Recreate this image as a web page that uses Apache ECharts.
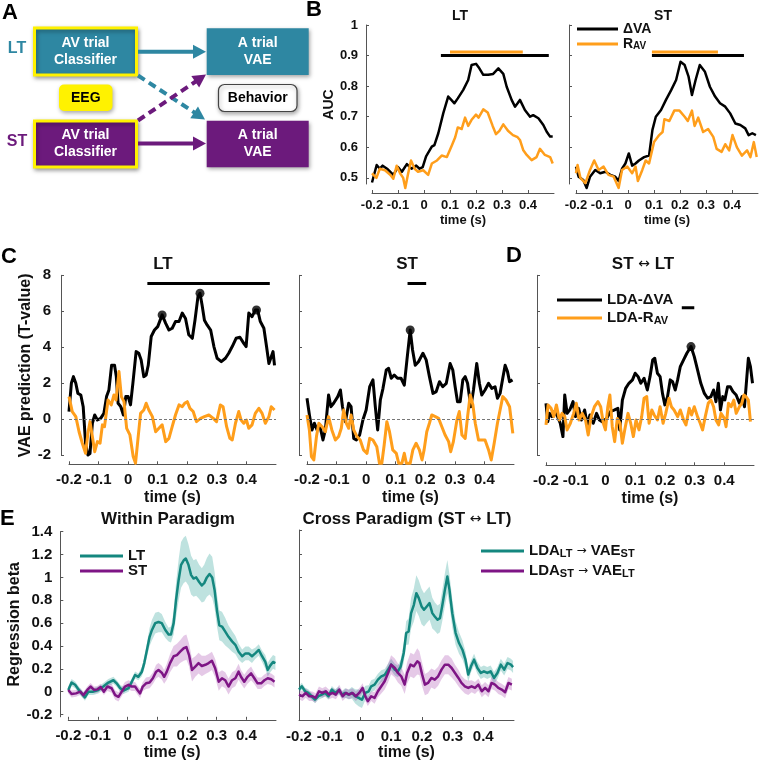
<!DOCTYPE html>
<html><head><meta charset="utf-8">
<script src="https://cdn.jsdelivr.net/npm/echarts@6/dist/echarts.min.js"></script>
<style>html,body{margin:0;padding:0;background:#fff}#c{width:768px;height:762px}</style>
</head><body><div id="c"></div>
<script>
// ---------- tick labels ----------
const xTicks = [-0.2,-0.1,0,0.1,0.2,0.3,0.4];
const yTicksB = [0.5,0.6,0.7,0.8,0.9,1];
const yTicksC = [-2,0,2,4,6,8];
const yTicksE = [-0.2,0,0.2,0.4,0.6,0.8,1,1.2,1.4];

// ---------- panel B (AUC) ----------
const bLT_dVA = [[-0.2,0.485],[-0.182,0.542],[-0.17,0.53],[-0.159,0.54],[-0.142,0.53],[-0.118,0.51],[-0.1,0.535],[-0.085,0.52],[-0.066,0.545],[-0.048,0.53],[-0.03,0.54],[-0.017,0.53],[-0.005,0.535],[0.008,0.57],[0.03,0.602],[0.04,0.607],[0.055,0.646],[0.074,0.711],[0.093,0.766],[0.105,0.755],[0.117,0.744],[0.13,0.76],[0.151,0.788],[0.17,0.82],[0.183,0.869],[0.2,0.873],[0.21,0.862],[0.228,0.837],[0.247,0.837],[0.266,0.84],[0.286,0.858],[0.305,0.84],[0.318,0.798],[0.337,0.755],[0.35,0.733],[0.36,0.744],[0.369,0.755],[0.388,0.722],[0.408,0.70],[0.42,0.705],[0.44,0.695],[0.459,0.673],[0.472,0.651],[0.485,0.635],[0.495,0.635]];
const bLT_Rav = [[-0.2,0.515],[-0.183,0.5],[-0.17,0.53],[-0.15,0.525],[-0.13,0.51],[-0.118,0.497],[-0.105,0.54],[-0.092,0.515],[-0.08,0.5],[-0.072,0.467],[-0.062,0.51],[-0.05,0.557],[-0.036,0.53],[-0.023,0.52],[-0.003,0.525],[0.016,0.51],[0.03,0.547],[0.05,0.557],[0.068,0.573],[0.088,0.568],[0.107,0.606],[0.12,0.633],[0.13,0.665],[0.145,0.66],[0.158,0.697],[0.17,0.67],[0.183,0.69],[0.2,0.707],[0.21,0.697],[0.228,0.724],[0.245,0.714],[0.264,0.67],[0.277,0.643],[0.29,0.654],[0.305,0.675],[0.323,0.654],[0.342,0.64],[0.36,0.633],[0.369,0.624],[0.382,0.59],[0.395,0.575],[0.414,0.558],[0.433,0.568],[0.446,0.595],[0.465,0.575],[0.485,0.568],[0.495,0.547]];
const bST_dVA = [[-0.2,0.537],[-0.19,0.504],[-0.172,0.493],[-0.159,0.467],[-0.146,0.504],[-0.126,0.526],[-0.107,0.515],[-0.087,0.52],[-0.068,0.51],[-0.049,0.504],[-0.036,0.49],[-0.023,0.53],[-0.01,0.547],[0.003,0.58],[0.016,0.54],[0.029,0.547],[0.042,0.557],[0.062,0.568],[0.081,0.573],[0.094,0.657],[0.107,0.7],[0.127,0.722],[0.146,0.755],[0.166,0.787],[0.185,0.82],[0.202,0.88],[0.218,0.869],[0.233,0.831],[0.246,0.771],[0.26,0.82],[0.276,0.869],[0.296,0.847],[0.315,0.798],[0.335,0.766],[0.354,0.744],[0.374,0.733],[0.393,0.711],[0.413,0.678],[0.432,0.673],[0.451,0.662],[0.464,0.64],[0.478,0.646],[0.492,0.64]];
const bST_Rav = [[-0.2,0.515],[-0.194,0.542],[-0.183,0.5],[-0.164,0.483],[-0.146,0.526],[-0.13,0.557],[-0.113,0.526],[-0.094,0.537],[-0.075,0.51],[-0.055,0.504],[-0.036,0.467],[-0.023,0.526],[-0.003,0.537],[0.016,0.515],[0.029,0.537],[0.038,0.49],[0.055,0.526],[0.068,0.557],[0.081,0.547],[0.1,0.617],[0.12,0.64],[0.133,0.65],[0.14,0.692],[0.159,0.686],[0.178,0.72],[0.198,0.72],[0.218,0.7],[0.23,0.686],[0.246,0.72],[0.256,0.67],[0.27,0.697],[0.289,0.65],[0.308,0.66],[0.328,0.634],[0.341,0.595],[0.36,0.585],[0.374,0.61],[0.389,0.59],[0.402,0.64],[0.419,0.6],[0.438,0.573],[0.458,0.59],[0.471,0.568],[0.484,0.617],[0.495,0.568]];
// significance intervals [start, end, level]
const sigB_LT_dVA = [0.065, 0.48, 0.9];
const sigB_LT_Rav = [0.10, 0.38, 0.912];
const sigB_ST_dVA = [0.092, 0.446, 0.9];
const sigB_ST_Rav = [0.092, 0.346, 0.912];

// ---------- panel C / D (T-values) ----------
const cLT_dVA = [[-0.2,0.43],[-0.192,2.0],[-0.185,2.37],[-0.177,2.0],[-0.17,1.44],[-0.16,1.35],[-0.152,0.7],[-0.144,-1.33],[-0.136,-1.98],[-0.129,-1.9],[-0.121,-0.22],[-0.113,0.24],[-0.104,-0.04],[-0.093,0.05],[-0.082,0.33],[-0.073,1.26],[-0.065,1.63],[-0.056,3.0],[-0.046,3.0],[-0.04,2.37],[-0.034,0.89],[-0.025,0.7],[-0.016,0.24],[-0.008,1.26],[0.0,1.26],[0.008,0.8],[0.016,2.0],[0.027,3.76],[0.036,3.67],[0.044,3.3],[0.053,2.37],[0.061,2.46],[0.068,3.0],[0.078,4.6],[0.089,4.96],[0.1,5.15],[0.115,5.8],[0.127,5.33],[0.138,4.96],[0.149,5.06],[0.16,5.43],[0.172,5.43],[0.183,5.9],[0.194,5.6],[0.205,4.7],[0.217,4.5],[0.226,5.5],[0.236,6.8],[0.243,7.0],[0.25,6.35],[0.258,5.5],[0.267,5.24],[0.279,4.96],[0.29,4.04],[0.301,3.39],[0.315,3.2],[0.329,3.39],[0.34,3.67],[0.352,4.04],[0.365,4.5],[0.378,4.56],[0.391,4.22],[0.399,4.04],[0.408,5.9],[0.419,5.7],[0.43,6.07],[0.438,6.07],[0.447,5.43],[0.459,5.06],[0.468,4.04],[0.476,3.1],[0.484,3.48],[0.49,3.76],[0.495,3.0]];
const cLT_Rav = [[-0.2,1.26],[-0.189,0.43],[-0.177,0.15],[-0.166,-0.69],[-0.155,-1.33],[-0.144,-1.89],[-0.136,-0.78],[-0.129,-0.13],[-0.121,-0.96],[-0.113,-1.8],[-0.104,-1.24],[-0.095,-1.33],[-0.087,-0.31],[-0.08,-0.41],[-0.068,1.07],[-0.057,0.8],[-0.048,1.35],[-0.041,1.07],[-0.031,2.65],[-0.023,1.26],[-0.014,0.98],[-0.005,-0.5],[0.006,-0.87],[0.017,-2.07],[0.025,-2.44],[0.034,-0.96],[0.042,0.33],[0.053,0.52],[0.061,0.89],[0.07,0.52],[0.082,0.15],[0.093,-0.69],[0.104,-0.5],[0.115,-0.31],[0.127,-1.24],[0.138,-1.06],[0.149,-0.41],[0.16,0.24],[0.172,0.8],[0.183,0.7],[0.191,0.89],[0.2,0.98],[0.209,0.61],[0.22,0.43],[0.231,-0.13],[0.245,0.05],[0.258,0.15],[0.273,0.24],[0.288,0.05],[0.299,-0.13],[0.312,0.8],[0.321,0.7],[0.333,-0.41],[0.344,-1.06],[0.352,-1.15],[0.363,-0.22],[0.374,0.43],[0.382,-0.04],[0.391,-0.22],[0.4,-0.04],[0.408,-0.5],[0.419,-0.31],[0.43,0.33],[0.442,0.61],[0.453,0.33],[0.464,-0.22],[0.476,0.15],[0.484,0.7],[0.495,0.52]];
const cST_dVA = [[-0.2,1.17],[-0.191,0.15],[-0.183,-0.59],[-0.175,-0.22],[-0.166,-0.59],[-0.157,-0.31],[-0.146,-1.15],[-0.138,-0.59],[-0.127,1.35],[-0.119,0.7],[-0.11,0.89],[-0.096,1.26],[-0.087,1.63],[-0.08,0.7],[-0.07,-0.13],[-0.059,0.89],[-0.051,0.7],[-0.042,-1.06],[-0.033,-1.15],[-0.022,-0.87],[-0.011,-0.04],[0.0,0.52],[0.012,1.81],[0.023,2.19],[0.031,0.7],[0.039,-0.59],[0.048,1.07],[0.057,1.72],[0.068,2.74],[0.076,2.83],[0.085,2.28],[0.095,2.46],[0.106,2.28],[0.118,2.28],[0.129,1.9],[0.138,3.3],[0.149,4.96],[0.157,3.85],[0.166,3.0],[0.177,3.2],[0.192,3.67],[0.203,3.3],[0.214,2.37],[0.226,1.44],[0.237,1.54],[0.248,2.09],[0.259,1.81],[0.271,2.0],[0.284,3.1],[0.293,2.74],[0.301,1.81],[0.309,0.98],[0.318,0.98],[0.327,2.19],[0.335,2.37],[0.343,2.0],[0.354,0.7],[0.363,1.63],[0.374,3.1],[0.383,2.0],[0.391,1.35],[0.402,1.63],[0.414,2.0],[0.425,1.72],[0.436,1.81],[0.444,1.17],[0.453,1.44],[0.462,2.28],[0.47,3.0],[0.478,2.65],[0.485,2.09],[0.495,2.19]];
const cST_Rav = [[-0.2,0.24],[-0.192,-0.59],[-0.185,-2.07],[-0.177,-2.26],[-0.168,-0.96],[-0.16,-0.22],[-0.149,-0.41],[-0.138,-0.69],[-0.127,0.15],[-0.116,-0.59],[-0.104,-1.15],[-0.093,-0.96],[-0.084,-0.5],[-0.076,0.52],[-0.067,-0.22],[-0.059,-0.5],[-0.051,0.24],[-0.042,-0.59],[-0.031,-0.96],[-0.02,-1.15],[-0.009,-1.7],[0.003,-1.89],[0.012,-1.06],[0.023,-1.15],[0.036,-1.52],[0.045,-2.44],[0.053,-2.44],[0.061,-1.43],[0.07,-0.13],[0.079,-0.69],[0.09,-1.7],[0.102,-1.89],[0.11,-2.44],[0.121,-2.44],[0.129,-1.89],[0.136,-2.44],[0.149,-2.44],[0.158,-1.7],[0.169,-1.33],[0.18,-1.7],[0.189,-2.26],[0.196,-1.7],[0.205,-0.69],[0.214,-0.22],[0.222,0.24],[0.234,0.15],[0.245,0.05],[0.256,-0.41],[0.267,-0.87],[0.279,-1.24],[0.286,-1.8],[0.295,-1.24],[0.307,-0.04],[0.315,0.43],[0.324,-0.87],[0.335,-1.06],[0.343,0.15],[0.352,1.35],[0.361,0.8],[0.369,-0.22],[0.38,-1.15],[0.391,-1.15],[0.402,-1.15],[0.414,-1.7],[0.423,-2.26],[0.433,-1.33],[0.444,-0.22],[0.453,0.52],[0.462,1.26],[0.473,1.07],[0.485,0.7],[0.496,-0.78]];
const d_dVA = [[-0.2,0.89],[-0.194,-0.13],[-0.188,0.33],[-0.18,0.15],[-0.171,0.43],[-0.161,0.15],[-0.152,-0.22],[-0.143,-0.96],[-0.137,1.35],[-0.129,0.33],[-0.12,0.52],[-0.109,0.98],[-0.101,0.15],[-0.09,0.61],[-0.081,-0.04],[-0.07,0.52],[-0.061,-0.31],[-0.052,0.24],[-0.041,-0.22],[-0.03,0.33],[-0.02,-0.04],[-0.011,-0.13],[0.004,0.05],[0.017,0.43],[0.031,0.52],[0.042,0.61],[0.048,-0.59],[0.057,1.07],[0.068,1.72],[0.079,2.0],[0.091,2.19],[0.1,2.56],[0.11,2.37],[0.119,2.0],[0.13,2.28],[0.141,1.63],[0.15,2.37],[0.159,3.3],[0.166,3.39],[0.175,2.56],[0.184,2.37],[0.192,1.44],[0.2,0.8],[0.209,1.26],[0.218,2.19],[0.226,2.09],[0.235,1.63],[0.243,2.19],[0.252,2.93],[0.263,3.3],[0.274,3.67],[0.288,4.04],[0.299,3.48],[0.31,2.74],[0.321,2.0],[0.333,1.44],[0.344,1.17],[0.355,1.26],[0.364,1.63],[0.372,0.98],[0.38,2.0],[0.387,0.52],[0.395,1.26],[0.402,1.07],[0.411,1.81],[0.42,1.81],[0.429,1.54],[0.44,1.35],[0.451,0.89],[0.46,1.26],[0.468,0.7],[0.476,2.37],[0.481,3.39],[0.488,2.93],[0.495,2.0]];
const d_Rav = [[-0.2,-0.31],[-0.193,0.8],[-0.183,0.61],[-0.174,0.15],[-0.165,0.8],[-0.155,-0.04],[-0.146,0.33],[-0.137,0.15],[-0.129,-0.59],[-0.118,-0.22],[-0.107,0.33],[-0.098,0.89],[-0.089,-0.04],[-0.078,0.33],[-0.067,-0.04],[-0.058,-0.87],[-0.048,0.15],[-0.037,0.7],[-0.025,0.98],[-0.016,0.7],[-0.007,-0.22],[0.0,-0.59],[0.008,0.7],[0.015,1.35],[0.023,-0.41],[0.031,-1.24],[0.04,0.05],[0.049,-0.22],[0.057,-1.33],[0.066,-0.5],[0.076,0.33],[0.085,-0.22],[0.094,-0.96],[0.103,-0.04],[0.113,-0.59],[0.122,0.15],[0.13,1.17],[0.139,1.26],[0.147,-0.22],[0.156,0.52],[0.164,0.24],[0.175,-0.04],[0.184,0.7],[0.194,-0.22],[0.203,0.33],[0.214,1.17],[0.222,0.7],[0.231,0.52],[0.243,0.15],[0.252,0.52],[0.263,-0.04],[0.271,-0.31],[0.282,0.61],[0.29,0.24],[0.299,0.7],[0.31,0.15],[0.319,-0.22],[0.327,-0.59],[0.336,0.15],[0.346,0.89],[0.355,1.07],[0.364,0.7],[0.372,-0.04],[0.381,-0.31],[0.389,0.33],[0.4,0.05],[0.406,-0.41],[0.414,0.89],[0.423,0.7],[0.432,1.07],[0.44,0.33],[0.451,0.7],[0.459,0.89],[0.466,1.35],[0.473,1.26],[0.481,1.07],[0.488,-0.13]];
const cLT_peaks = [[0.115,5.8],[0.243,7.0],[0.434,6.07]];
const cST_peaks = [[0.149,4.96]];
const d_peaks = [[0.288,4.04]];
const sigC_LT = [0.065, 0.479, 7.55];
const sigC_ST = [0.14, 0.203, 7.55];
const sigD = [0.257, 0.299, 6.2];

// ---------- panel E (regression beta): [time, mean, half-width of shaded band] ----------
const eWithin_LT = [[-0.2,0.015,0.03],[-0.189,0.08,0.03],[-0.177,0.06,0.03],[-0.16,0.0,0.03],[-0.144,-0.05,0.03],[-0.132,0.0,0.03],[-0.116,0.0,0.03],[-0.099,0.015,0.03],[-0.082,0.045,0.03],[-0.065,0.08,0.03],[-0.048,0.1,0.03],[-0.037,0.073,0.03],[-0.025,0.03,0.03],[-0.014,0.01,0.03],[0.003,0.03,0.03],[0.014,0.087,0.03],[0.025,0.146,0.03],[0.036,0.13,0.03],[0.048,0.175,0.04],[0.056,0.25,0.05],[0.065,0.365,0.06],[0.074,0.48,0.08],[0.082,0.54,0.09],[0.093,0.6,0.09],[0.104,0.61,0.09],[0.115,0.6,0.08],[0.127,0.54,0.07],[0.138,0.5,0.06],[0.146,0.5,0.07],[0.155,0.6,0.1],[0.163,0.8,0.15],[0.172,0.98,0.18],[0.18,1.11,0.2],[0.189,1.15,0.2],[0.196,1.165,0.2],[0.205,1.11,0.18],[0.214,1.02,0.17],[0.222,0.99,0.16],[0.231,1.0,0.16],[0.241,0.96,0.15],[0.25,0.93,0.15],[0.258,0.95,0.16],[0.267,1.0,0.17],[0.276,1.03,0.18],[0.285,1.0,0.18],[0.293,0.89,0.16],[0.301,0.71,0.14],[0.309,0.58,0.13],[0.318,0.57,0.13],[0.329,0.525,0.12],[0.34,0.48,0.1],[0.352,0.44,0.09],[0.363,0.41,0.08],[0.374,0.35,0.07],[0.386,0.31,0.06],[0.397,0.335,0.06],[0.408,0.335,0.06],[0.419,0.31,0.06],[0.43,0.335,0.05],[0.442,0.365,0.05],[0.453,0.31,0.05],[0.464,0.26,0.06],[0.472,0.19,0.06],[0.481,0.23,0.06],[0.49,0.26,0.06],[0.498,0.25,0.06]];
const eWithin_ST = [[-0.2,0.015,0.03],[-0.189,-0.02,0.03],[-0.174,-0.015,0.03],[-0.16,0.0,0.03],[-0.149,-0.03,0.03],[-0.136,0.015,0.03],[-0.125,0.045,0.03],[-0.113,0.015,0.03],[-0.102,0.02,0.03],[-0.091,0.04,0.03],[-0.08,0.0,0.03],[-0.068,0.045,0.04],[-0.054,0.03,0.04],[-0.042,-0.03,0.04],[-0.031,-0.045,0.04],[-0.02,0.0,0.04],[-0.009,0.045,0.04],[0.003,0.06,0.04],[0.014,0.045,0.04],[0.025,0.045,0.04],[0.033,0.015,0.04],[0.042,-0.015,0.04],[0.051,0.045,0.04],[0.062,0.073,0.05],[0.074,0.08,0.05],[0.085,0.117,0.05],[0.096,0.175,0.06],[0.104,0.19,0.06],[0.115,0.166,0.06],[0.123,0.13,0.06],[0.132,0.175,0.07],[0.143,0.25,0.08],[0.155,0.31,0.09],[0.166,0.32,0.1],[0.177,0.35,0.1],[0.189,0.38,0.11],[0.198,0.39,0.11],[0.207,0.32,0.1],[0.217,0.19,0.1],[0.228,0.22,0.09],[0.239,0.25,0.09],[0.25,0.225,0.09],[0.262,0.235,0.08],[0.273,0.25,0.08],[0.284,0.27,0.08],[0.295,0.205,0.08],[0.307,0.087,0.08],[0.318,0.117,0.07],[0.329,0.1,0.07],[0.34,0.045,0.07],[0.352,0.1,0.07],[0.363,0.117,0.07],[0.374,0.175,0.07],[0.382,0.13,0.06],[0.393,0.087,0.06],[0.404,0.13,0.06],[0.416,0.16,0.06],[0.427,0.117,0.05],[0.438,0.073,0.05],[0.45,0.073,0.05],[0.461,0.1,0.05],[0.472,0.117,0.05],[0.484,0.108,0.05],[0.495,0.087,0.05]];
const eCross_LTtoST = [[-0.2,0.056,0.03],[-0.191,0.084,0.03],[-0.18,0.042,0.03],[-0.17,0.028,0.03],[-0.159,0.0,0.03],[-0.148,-0.028,0.03],[-0.137,0.0,0.03],[-0.126,0.014,0.03],[-0.115,0.028,0.03],[-0.104,0.0,0.03],[-0.093,0.056,0.03],[-0.082,0.028,0.03],[-0.071,0.05,0.03],[-0.06,0.014,0.03],[-0.05,0.028,0.04],[-0.039,0.014,0.04],[-0.028,0.028,0.05],[-0.017,0.0,0.06],[-0.006,-0.014,0.07],[0.005,-0.028,0.07],[0.016,0.028,0.06],[0.027,0.042,0.05],[0.035,0.084,0.05],[0.046,0.098,0.05],[0.057,0.14,0.05],[0.068,0.168,0.05],[0.079,0.18,0.05],[0.09,0.224,0.05],[0.1,0.266,0.05],[0.112,0.224,0.05],[0.122,0.21,0.05],[0.131,0.25,0.06],[0.141,0.364,0.08],[0.149,0.532,0.1],[0.157,0.546,0.11],[0.165,0.7,0.13],[0.174,0.77,0.14],[0.182,0.868,0.15],[0.19,0.826,0.15],[0.199,0.756,0.15],[0.207,0.728,0.14],[0.216,0.756,0.14],[0.225,0.784,0.14],[0.234,0.7,0.13],[0.242,0.672,0.12],[0.251,0.644,0.12],[0.259,0.658,0.12],[0.266,0.756,0.13],[0.275,0.896,0.14],[0.283,1.008,0.14],[0.29,0.896,0.13],[0.299,0.7,0.12],[0.31,0.532,0.1],[0.321,0.448,0.09],[0.332,0.392,0.08],[0.342,0.308,0.07],[0.351,0.182,0.06],[0.36,0.252,0.05],[0.37,0.308,0.05],[0.381,0.238,0.05],[0.392,0.196,0.05],[0.402,0.21,0.05],[0.413,0.196,0.05],[0.424,0.21,0.05],[0.435,0.154,0.05],[0.446,0.196,0.05],[0.457,0.266,0.05],[0.468,0.224,0.05],[0.479,0.28,0.05],[0.49,0.266,0.05],[0.497,0.246,0.05]];
const eCross_STtoLT = [[-0.2,0.014,0.04],[-0.189,0.0,0.04],[-0.178,0.028,0.04],[-0.167,0.0,0.04],[-0.156,0.0,0.04],[-0.146,-0.014,0.04],[-0.135,0.042,0.04],[-0.124,0.028,0.04],[-0.113,0.042,0.04],[-0.102,0.014,0.04],[-0.091,0.028,0.04],[-0.08,0.014,0.04],[-0.069,0.056,0.04],[-0.058,0.0,0.04],[-0.047,0.028,0.04],[-0.037,0.014,0.04],[-0.026,0.028,0.04],[-0.015,0.0,0.04],[-0.004,0.028,0.04],[0.007,0.07,0.04],[0.016,0.0,0.04],[0.024,-0.042,0.04],[0.035,0.0,0.04],[0.046,-0.014,0.05],[0.057,0.042,0.05],[0.068,0.084,0.06],[0.079,0.126,0.07],[0.09,0.196,0.08],[0.1,0.266,0.08],[0.112,0.238,0.08],[0.122,0.196,0.08],[0.133,0.168,0.08],[0.144,0.098,0.08],[0.152,0.196,0.09],[0.163,0.266,0.1],[0.174,0.252,0.1],[0.185,0.294,0.11],[0.192,0.28,0.1],[0.201,0.182,0.1],[0.21,0.098,0.09],[0.22,0.112,0.09],[0.231,0.154,0.08],[0.242,0.14,0.08],[0.253,0.168,0.08],[0.264,0.224,0.08],[0.275,0.266,0.08],[0.286,0.266,0.08],[0.297,0.238,0.08],[0.308,0.196,0.07],[0.319,0.154,0.07],[0.329,0.112,0.06],[0.34,0.084,0.06],[0.351,0.07,0.06],[0.362,0.084,0.05],[0.373,0.07,0.05],[0.384,0.098,0.05],[0.395,0.042,0.05],[0.406,0.07,0.05],[0.417,0.042,0.05],[0.427,0.112,0.05],[0.438,0.098,0.05],[0.449,0.07,0.05],[0.46,0.056,0.05],[0.471,0.034,0.05],[0.482,0.112,0.05],[0.493,0.098,0.05]];

// ---------- styling ----------
const F = '"Liberation Sans", Arial, Helvetica, sans-serif';
const BLACK = '#000', ORANGE = '#FF9E1B', TEAL = '#14877F', PURPLE = '#7E1585';
const BOX_TEAL = '#2E87A2', BOX_PURP = '#6C1A7C', YEL = '#FFF200';
const AX = '#555';

function fmt(v){ if (Math.abs(v) < 1e-9) return '0'; return String(Math.round(v*100)/100); }

function mkX(gi, fs, nfs, margin, nameGap, offset){
  return {type:'value', gridIndex:gi, min:-0.2, max:0.5, offset:offset,
    axisLine:{show:true, onZero:false, lineStyle:{color:AX, width:1}},
    axisTick:{show:true, inside:true, length:3, customValues:xTicks, lineStyle:{color:AX}},
    axisLabel:{show:true, customValues:xTicks, margin:margin, fontSize:fs, fontWeight:'bold', color:'#111', fontFamily:F, formatter:fmt, hideOverlap:false},
    splitLine:{show:false},
    name:'time (s)', nameLocation:'middle', nameGap:nameGap,
    nameTextStyle:{fontSize:nfs, fontWeight:'bold', color:'#111', fontFamily:F}};
}
function mkY(gi, min, max, ticks, showLab, fs, margin, offset, name, nameGap){
  const a = {type:'value', gridIndex:gi, min:min, max:max, offset:offset,
    axisLine:{show:true, onZero:false, lineStyle:{color:AX, width:1}},
    axisTick:{show:true, inside:true, length:3, customValues:ticks, lineStyle:{color:AX}},
    axisLabel:{show:showLab, customValues:ticks, margin:margin, fontSize:fs, fontWeight:'bold', color:'#111', fontFamily:F, formatter:fmt, hideOverlap:false},
    splitLine:{show:false}};
  if (name){ a.name = name; a.nameLocation='middle'; a.nameGap=nameGap; a.nameRotate=90;
    a.nameTextStyle={fontSize:fs+1, fontWeight:'bold', color:'#111', fontFamily:F}; }
  return a;
}
function ln(gi, name, data, color, w, z, extra){
  return Object.assign({type:'line', name:name, xAxisIndex:gi, yAxisIndex:gi, data:data,
    symbol:'none', showSymbol:false, clip:false, animation:false, z:z||3,
    lineStyle:{color:color, width:w, join:'round'}, itemStyle:{color:color}, emphasis:{disabled:true}}, extra||{});
}
function sig(gi, s, color, w){
  return ln(gi, 'sig', [[s[0], s[2]], [s[1], s[2]]], color, w, 4);
}
function peaks(gi, data){
  return {type:'scatter', xAxisIndex:gi, yAxisIndex:gi, data:data, symbolSize:9, itemStyle:{color:BLACK}, z:6, animation:false, clip:false};
}
function band(gi, data, color){
  return {type:'custom', xAxisIndex:gi, yAxisIndex:gi, data:[[data[0][0], data[0][1]]], silent:true, z:1, animation:false, clip:false,
    renderItem:function(params, api){
      const up = data.map(d => api.coord([d[0], d[1]+d[2]]));
      const lo = data.slice().reverse().map(d => api.coord([d[0], d[1]-d[2]]));
      return {type:'polygon', shape:{points:up.concat(lo)}, style:{fill:color}};
    }};
}
const zeroMark = {silent:true, symbol:['none','none'], label:{show:false}, animation:false,
  lineStyle:{type:[3,2], color:'#777', width:1}, data:[{yAxis:0}]};

// ---------- panel A diagram helpers ----------
function arrow(x1,y1,x2,y2,color,dashed){
  const dx=x2-x1, dy=y2-y1, L=Math.hypot(dx,dy), ux=dx/L, uy=dy/L, hl=13, hw=7;
  const bx=x2-ux*hl, by=y2-uy*hl, nx=-uy, ny=ux;
  return [
    {type:'line', shape:{x1:x1,y1:y1,x2:bx+ux,y2:by+uy}, style:{stroke:color, lineWidth:4, lineDash:dashed?[8,5]:null}},
    {type:'polygon', shape:{points:[[x2,y2],[bx+nx*hw,by+ny*hw],[bx-nx*hw,by-ny*hw]]}, style:{fill:color}}
  ];
}
function box(x,y,w,h,fill,stroke,lw,r,text,tcolor){
  return [
    {type:'rect', shape:{x:x,y:y,width:w,height:h,r:r||0}, style:{fill:fill, stroke:stroke, lineWidth:lw, shadowBlur:4, shadowOffsetX:1, shadowOffsetY:2, shadowColor:'rgba(0,0,0,0.35)'}},
    {type:'text', style:{text:text, x:x+w/2, y:y+h/2, align:'center', verticalAlign:'middle', textAlign:'center', textVerticalAlign:'middle', font:'bold 14px '+F, lineHeight:17, fill:tcolor}}
  ];
}
const graphicA = [].concat(
  box(34.5,28,102,47, BOX_TEAL, YEL, 3, 0, 'AV trial\nClassifier', '#fff'),
  box(34.5,121,102,46, BOX_PURP, YEL, 3, 0, 'AV trial\nClassifier', '#fff'),
  box(59,84.5,53.5,26.5, YEL, null, 0, 5, 'EEG', '#000'),
  box(206.7,28.3,102,46.7, BOX_TEAL, null, 0, 0, 'A trial\nVAE', '#fff'),
  box(206.7,120.7,102,46.6, BOX_PURP, null, 0, 0, 'A trial\nVAE', '#fff'),
  box(218.5,84.5,78.5,27, '#fff', '#444', 1.2, 6, 'Behavior', '#000'),
  arrow(138,51.7,206,51.7, BOX_TEAL, false),
  arrow(138,143.5,206,143.5, BOX_PURP, false),
  arrow(138,75.5,205,119.5, BOX_TEAL, true),
  arrow(138,120.5,206,74.5, BOX_PURP, true)
);

// ---------- titles ----------
function T(text, x, y, fs, color, align){
  return {text:text, left:x, top:y, textAlign:align||'center', padding:0, itemGap:0,
    textStyle:{fontSize:fs, fontWeight:'bold', color:color||'#111', fontFamily:F,
      rich:{a:{fontSize:fs-3, fontWeight:'normal', color:color||'#111', fontFamily:'DejaVu Sans'}}}};
}
const titles = [
  T('A',2,2,22,'#000','left'), T('B',306,-1,22,'#000','left'), T('C',1,246,22,'#000','left'),
  T('D',506,245,22,'#000','left'), T('E',0,508,22,'#000','left'),
  T('LT',17,41,16,BOX_TEAL), T('ST',17,134,16,BOX_PURP),
  T('LT',460,9,14), T('ST',663,9,14),
  T('LT',163,256,17), T('ST',407,256,17), T('ST {a|↔} LT',643,256,17),
  T('Within Paradigm',168,511,17), T('Cross Paradigm (ST {a|↔} LT)',407,511,17)
];

// ---------- legends ----------
const subRich = (fs, lh) => ({sub:{fontSize:fs-4, fontWeight:'bold', color:'#111', fontFamily:F, verticalAlign:'bottom', lineHeight:Math.round(lh*0.5)},
  a:{fontSize:fs-3, fontWeight:'normal', color:'#111', fontFamily:'DejaVu Sans', lineHeight:lh}});
function leg(x, y, w, names, fs, lh, gap, fmtf){
  return {left:x, top:y, orient:'vertical', icon:'rect', itemWidth:w, itemHeight:3, itemGap:gap, padding:0,
    selectedMode:false, data:names, formatter:fmtf||(n=>n),
    textStyle:{fontSize:fs, fontWeight:'bold', color:'#111', fontFamily:F, lineHeight:lh, rich:subRich(fs, lh)}};
}
const legends = [
  leg(577, 21.5, 41, ['ΔVA','R_AV'], 14, 15, 0, n => n==='R_AV' ? 'R{sub|AV}' : n),
  leg(557, 292, 45, ['LDA-ΔVA','LDA-R_AV'], 15, 16, 2, n => n==='LDA-R_AV' ? 'LDA-R{sub|AV}' : n),
  leg(80, 548.5, 43, ['LT','ST'], 15, 15, 0),
  leg(481, 542.5, 43, ['LDA_LT → VAE_ST','LDA_ST → VAE_LT'], 15, 17, 3,
      n => n.indexOf('LDA_LT')===0 ? 'LDA{sub|LT} {a|→} VAE{sub|ST}' : 'LDA{sub|ST} {a|→} VAE{sub|LT}')
];

// ---------- option ----------
const option = {
  backgroundColor:'#fff', animation:false,
  title: titles,
  legend: legends,
  grid: [
    {left:372, top:25, width:182, height:159},
    {left:576, top:25, width:182, height:159},
    {left:69, top:275.3, width:207, height:180},
    {left:307, top:275.3, width:207, height:180},
    {left:546, top:275.3, width:208, height:180},
    {left:68.3, top:531.7, width:207.7, height:185.1},
    {left:299, top:530, width:215, height:190.5}
  ],
  xAxis: [
    mkX(0,13,13,6,21,9), mkX(1,13,13,6,21,9),
    mkX(2,15,16,8,25,9), mkX(3,15,16,8,25,9), mkX(4,15,16,8,25,10),
    mkX(5,15,16,9,25,3), mkX(6,15,16,9,25,0)
  ],
  yAxis: [
    mkY(0,0.48,1,yTicksB,true,13,8,6,'AUC',30),
    mkY(1,0.48,1,yTicksB,false,13,8,7),
    mkY(2,-2,8,yTicksC,true,15,10,8,'VAE prediction (T-value)',27),
    mkY(3,-2,8,yTicksC,false,15,10,8),
    mkY(4,-2,8,yTicksC,false,15,10,9),
    mkY(5,-0.22,1.4,yTicksE,true,15,8,8,'Regression beta',38),
    mkY(6,-0.2,1.4,yTicksE,false,15,8,0)
  ],
  graphic: graphicA,
  series: [
    // B
    ln(0,'ΔVA',bLT_dVA,BLACK,2.5), ln(0,'R_AV',bLT_Rav,ORANGE,2.5),
    sig(0,sigB_LT_dVA,BLACK,3), sig(0,sigB_LT_Rav,ORANGE,3),
    ln(1,'ΔVA',bST_dVA,BLACK,2.5), ln(1,'R_AV',bST_Rav,ORANGE,2.5),
    sig(1,sigB_ST_dVA,BLACK,3), sig(1,sigB_ST_Rav,ORANGE,3),
    // C
    ln(2,'C-LT ΔVA',cLT_dVA,BLACK,3,3,{markLine:zeroMark}), ln(2,'C-LT R_AV',cLT_Rav,ORANGE,3),
    sig(2,sigC_LT,BLACK,3), peaks(2,cLT_peaks),
    ln(3,'C-ST ΔVA',cST_dVA,BLACK,3,3,{markLine:zeroMark}), ln(3,'C-ST R_AV',cST_Rav,ORANGE,3),
    sig(3,sigC_ST,BLACK,3), peaks(3,cST_peaks),
    // D
    ln(4,'LDA-ΔVA',d_dVA,BLACK,3,3,{markLine:zeroMark}), ln(4,'LDA-R_AV',d_Rav,ORANGE,3),
    sig(4,sigD,BLACK,3), peaks(4,d_peaks),
    // E
    band(5,eWithin_LT,'rgba(20,150,140,0.28)'), band(5,eWithin_ST,'rgba(150,40,160,0.25)'),
    ln(5,'LT',eWithin_LT.map(d=>[d[0],d[1]]),TEAL,2.5), ln(5,'ST',eWithin_ST.map(d=>[d[0],d[1]]),PURPLE,2.5,4),
    band(6,eCross_LTtoST,'rgba(20,150,140,0.28)'), band(6,eCross_STtoLT,'rgba(150,40,160,0.25)'),
    ln(6,'LDA_LT → VAE_ST',eCross_LTtoST.map(d=>[d[0],d[1]]),TEAL,2.5), ln(6,'LDA_ST → VAE_LT',eCross_STtoLT.map(d=>[d[0],d[1]]),PURPLE,2.5,4)
  ]
};
const chart = echarts.init(document.getElementById('c'), null, {renderer:'canvas', width:768, height:762});
chart.setOption(option);
</script>
</body></html>
